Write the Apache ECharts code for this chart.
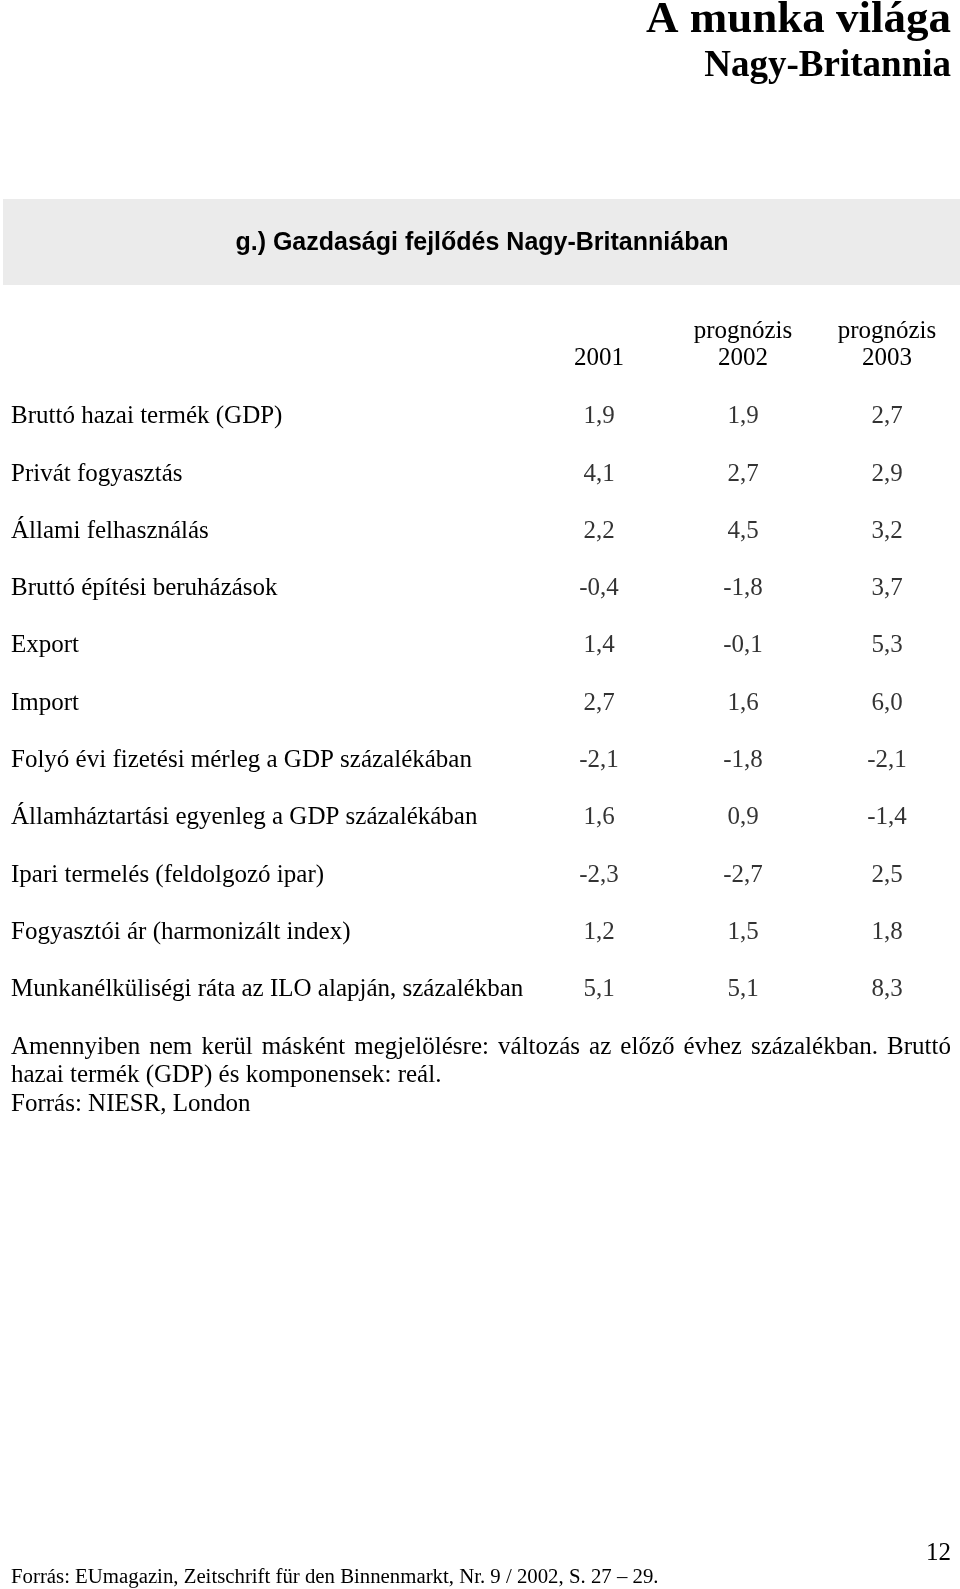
<!DOCTYPE html>
<html>
<head>
<meta charset="utf-8">
<script src="https://cdn.jsdelivr.net/npm/echarts@6/dist/echarts.min.js"></script>
<style>html,body{margin:0;padding:0;background:#fff}#c{width:960px;height:1589px}</style>
</head>
<body>
<div id="c"></div>
<script>
const categories = [
  'Bruttó hazai termék (GDP)',
  'Privát fogyasztás',
  'Állami felhasználás',
  'Bruttó építési beruházások',
  'Export',
  'Import',
  'Folyó évi fizetési mérleg a GDP százalékában',
  'Államháztartási egyenleg a GDP százalékában',
  'Ipari termelés (feldolgozó ipar)',
  'Fogyasztói ár (harmonizált index)',
  'Munkanélküliségi ráta az ILO alapján, százalékban'
];
const columns = ['2001', 'prognózis\n2002', 'prognózis\n2003'];
const v2001 = [1.9, 4.1, 2.2, -0.4, 1.4, 2.7, -2.1, 1.6, -2.3, 1.2, 5.1];
const v2002 = [1.9, 2.7, 4.5, -1.8, -0.1, 1.6, -1.8, 0.9, -2.7, 1.5, 5.1];
const v2003 = [2.7, 2.9, 3.2, 3.7, 5.3, 6.0, -2.1, -1.4, 2.5, 1.8, 8.3];

const SERIF = '"Liberation Serif", "Times New Roman", serif';
const SANS = '"Liberation Sans", Arial, sans-serif';
const FS = 25;

const cells = [];
[v2001, v2002, v2003].forEach((arr, ci) => {
  arr.forEach((v, ri) => cells.push([ci, ri, v]));
});

// justified first footnote line
const line1 = 'Amennyiben nem kerül másként megjelölésre: változás az előző évhez százalékban. Bruttó';
const words = line1.split(' ');
const cv = document.createElement('canvas').getContext('2d');
cv.font = FS + 'px ' + SERIF;
const wordsW = words.reduce((s, w) => s + cv.measureText(w).width, 0);
const lineStart = 11, lineEnd = 951;
const gap = Math.max(2, (lineEnd - lineStart - wordsW) / (words.length - 1));
const justified = words.map(w => '{w|' + w + '}').join('{s|}');

const chart = echarts.init(document.getElementById('c'), null, {renderer: 'canvas'});
const labelLeft = 11;
const gridLeft = 527;
chart.setOption({
  animation: false,
  backgroundColor: '#ffffff',
  grid: {left: gridLeft, width: 432, top: 388, height: 630.3, containLabel: false},
  xAxis: {
    type: 'category', data: columns, position: 'top',
    axisLine: {show: false}, axisTick: {show: false}, splitLine: {show: false},
    axisLabel: {
      margin: 16, color: '#000', fontFamily: SERIF, fontSize: FS, lineHeight: 27,
      interval: 0, verticalAlign: 'bottom'
    }
  },
  yAxis: {
    type: 'category', data: categories, inverse: true,
    axisLine: {show: false}, axisTick: {show: false}, splitLine: {show: false},
    axisLabel: {
      margin: gridLeft - labelLeft, align: 'left', color: '#000',
      fontFamily: SERIF, fontSize: FS, interval: 0
    }
  },
  series: [{
    type: 'scatter', data: cells, symbolSize: 1,
    itemStyle: {color: 'rgba(0,0,0,0)'},
    silent: true,
    label: {
      show: true, position: 'inside', color: '#000', fontFamily: SERIF, fontSize: FS,
      formatter: p => p.value[2].toFixed(1).replace('.', ',')
    },
    emphasis: {disabled: true}
  }],
  graphic: [
    {type: 'rect', shape: {x: 3, y: 199, width: 957, height: 86}, style: {fill: '#ebebeb'}, silent: true},
    {type: 'text', x: 482, y: 243, style: {text: 'g.) Gazdasági fejlődés Nagy-Britanniában', font: 'bold 25px ' + SANS, fill: '#000', align: 'center', verticalAlign: 'middle'}},
    {type: 'text', x: 951, y: 20, style: {text: 'A munka világa', font: 'bold 45px ' + SERIF, fill: '#000', align: 'right', verticalAlign: 'middle'}},
    {type: 'text', x: 951, y: 66, style: {text: 'Nagy-Britannia', font: 'bold 37px ' + SERIF, fill: '#000', align: 'right', verticalAlign: 'middle'}},
    {type: 'text', x: lineStart, y: 1047, style: {
      text: justified, fill: '#000', align: 'left', verticalAlign: 'middle',
      rich: {w: {fontFamily: SERIF, fontSize: FS, fill: '#000'}, s: {width: gap}}
    }},
    {type: 'text', x: 11, y: 1075, style: {text: 'hazai termék (GDP) és komponensek: reál.', font: FS + 'px ' + SERIF, fill: '#000', align: 'left', verticalAlign: 'middle'}},
    {type: 'text', x: 11, y: 1104, style: {text: 'Forrás: NIESR, London', font: FS + 'px ' + SERIF, fill: '#000', align: 'left', verticalAlign: 'middle'}},
    {type: 'text', x: 951, y: 1553, style: {text: '12', font: '25px ' + SERIF, fill: '#000', align: 'right', verticalAlign: 'middle'}},
    {type: 'text', x: 11, y: 1578, style: {text: 'Forrás: EUmagazin, Zeitschrift für den Binnenmarkt, Nr. 9 / 2002, S. 27 – 29.', font: '20.8px ' + SERIF, fill: '#000', align: 'left', verticalAlign: 'middle'}}
  ]
});
</script>
</body>
</html>
